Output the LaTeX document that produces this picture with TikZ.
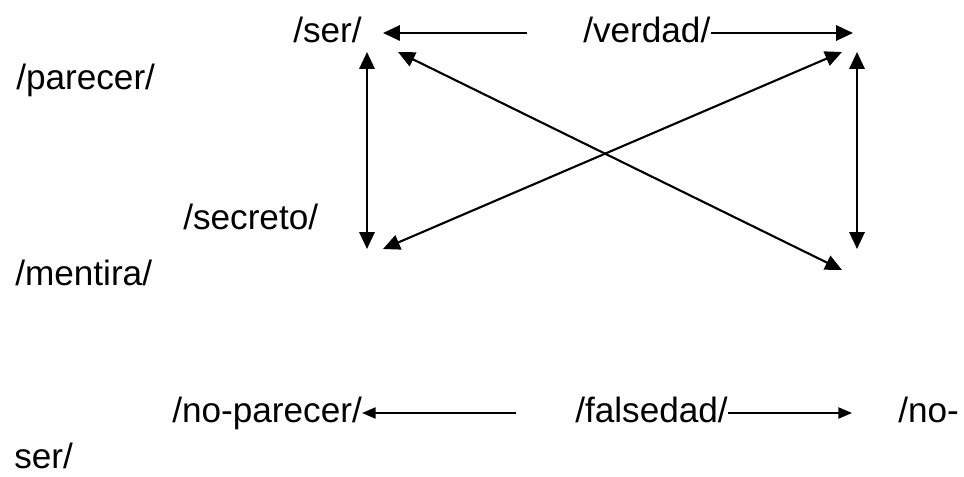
\documentclass[tikz,border=0pt]{standalone}
\usepackage{fontspec}
\setmainfont{Liberation Sans}
\usetikzlibrary{arrows.meta}

\begin{document}
\begin{tikzpicture}[x=0.025cm,y=-0.025cm,
    word/.style={anchor=base west,inner sep=0pt,font=\fontsize{25}{30}\selectfont},
    arr/.style={-{Triangle[length=0.42cm,width=0.38cm]},line width=1.5pt},
    dbl/.style={{Triangle[length=0.42cm,width=0.38cm]}-{Triangle[length=0.42cm,width=0.38cm]},line width=1.5pt},
    sarr/.style={-{Triangle[length=0.34cm,width=0.28cm]},line width=1.1pt}]
  \useasboundingbox (0,0) rectangle (964,477);

  % terms
  \node[word] (ser) at (293,43) {/ser/};
  \node[word] (verdad) at (583,43) {/verdad/};
  \node[word] (parecer) at (16,90) {/parecer/};
  \node[word] (secreto) at (183,230) {/secreto/};
  \node[word] (mentira) at (15,286) {/mentira/};
  \node[word] (noparecer) at (172,422) {/no-parecer/};
  \node[word] (falsedad) at (575,422) {/falsedad/};
  \node[word] (noser) at (898,422) {/no-};
  \node[word] (noser2) at (14,468) {ser/};

  % corners of the square
  \coordinate (tl) at (367,52);
  \coordinate (bl) at (367,249);
  \coordinate (tr) at (857,52);
  \coordinate (br) at (857,249);
  \coordinate (tl2) at (398,52);
  \coordinate (br2) at (842,270);
  \coordinate (tr2) at (842,52);
  \coordinate (bl2) at (383,249);

  % top row
  \coordinate (top-a) at (527,33);
  \coordinate (top-b) at (383,33);
  \coordinate (top-c) at (853,33);
  \draw[arr] (top-a) -- (top-b);
  \draw[arr] (verdad.east |- top-a) -- (top-c);

  \draw[dbl] (tl) -- (bl);
  \draw[dbl] (tr) -- (br);
  \draw[dbl] (tl2) -- (br2);
  \draw[dbl] (tr2) -- (bl2);

  % bottom row
  \coordinate (bot-a) at (516,413);
  \coordinate (bot-c) at (852,413);
  \draw[sarr] (bot-a) -- (noparecer.east |- bot-a);
  \draw[sarr] (falsedad.east |- bot-a) -- (bot-c);
\end{tikzpicture}
\end{document}
